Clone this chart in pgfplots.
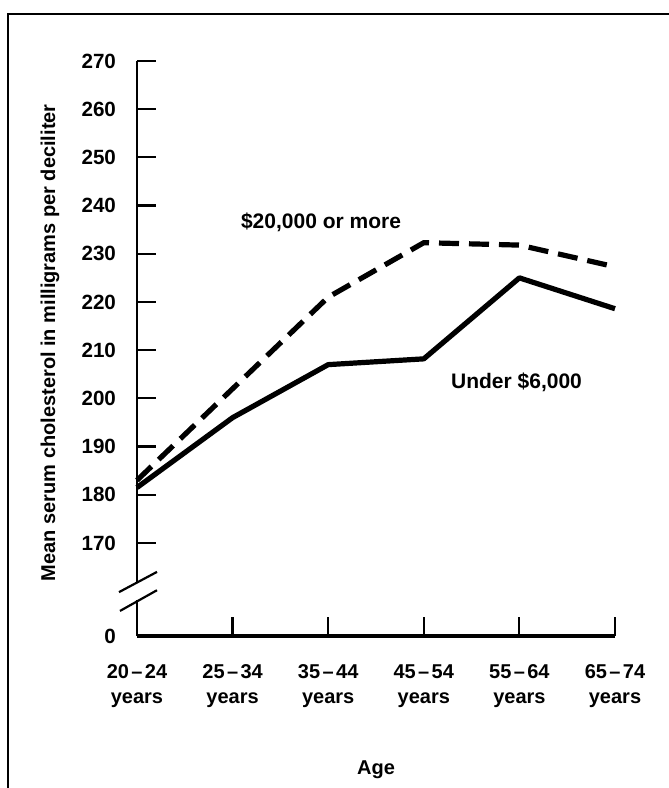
\documentclass[border=0pt]{standalone}
\usepackage{fontspec}
\setmainfont{Liberation Sans}
\usepackage{pgfplots}
\pgfplotsset{compat=1.18}
\newcommand\agelab[2]{\strut#1\kern1.2pt--\kern1.2pt#2\\\strut years}
\begin{document}
\begin{tikzpicture}
\begin{axis}[
  at={(0,0)}, anchor=south west,
  x=47.8pt, y=2.41pt,
  xmin=0, xmax=5, ymin=150.7, ymax=270,
  clip=false,
  axis x line*=bottom,
  axis y line*=left,
  y axis line style={draw=none},
  x axis line style={line width=2pt, -},
  tick align=inside,
  major tick length=9.5pt,
  every tick/.style={black, line width=1.1pt},
  xtick={0,1,2,3,4,5},
  xticklabels={{\agelab{20}{24}},{\agelab{25}{34}},{\agelab{35}{44}},{\agelab{45}{54}},{\agelab{55}{64}},{\agelab{65}{74}}},
  x tick label style={align=center, anchor=north, font=\bfseries\fontsize{10}{12.5}\selectfont, yshift=-9pt},
  ytick={150.7,170,180,190,200,210,220,230,240,250,260,270},
  yticklabels={0,170,180,190,200,210,220,230,240,250,260,270},
  y tick label style={font=\bfseries\fontsize{10.3}{12}\selectfont, xshift=-7pt},
  /pgf/number format/assume math mode=true,
  ylabel={Mean serum cholesterol in milligrams per deciliter},
  ylabel style={at={(axis description cs:-0.182,0.51)}, anchor=center, font=\bfseries\fontsize{10}{12}\selectfont},
  xlabel={Age},
  xlabel style={at={(axis description cs:0.5,0)}, anchor=center, yshift=-67pt, font=\bfseries\fontsize{10}{12}\selectfont},
]
% Under $6,000
\addplot[black, line width=2.6pt, line join=round] coordinates {
  (0,181.5) (1,196) (2,207) (3,208.2) (4,225) (5,218.6)
};
% $20,000 or more
\addplot[black, line width=2.6pt, dash pattern=on 10pt off 5pt] coordinates {
  (0,183) (1,202) (2,221) (3,232.3) (4,231.8) (5,227.3)
};
\node[font=\bfseries\fontsize{10.5}{12}\selectfont] at (axis cs:1.925,236.6) {\$20,000 or more};
\node[font=\bfseries\fontsize{10.5}{12}\selectfont] at (axis cs:3.97,203.4) {Under \$6,000};
% broken y axis
\draw[line width=1.1pt] (axis cs:0,270) -- (axis cs:0,161.9);
\draw[line width=1.1pt] (axis cs:0,158.2) -- (axis cs:0,150.7);
\draw[line width=1.1pt] ([xshift=-9pt]axis cs:0,159.8) -- ([xshift=10pt]axis cs:0,164.0);
\draw[line width=1.1pt] ([xshift=-8.5pt]axis cs:0,155.9) -- ([xshift=10pt]axis cs:0,160.2);
\end{axis}
\pgfresetboundingbox
\useasboundingbox (-68.5pt,-76pt) rectangle (266pt,318pt);
\draw[line width=1.1pt] (-64.5pt,-80pt) -- (-64.5pt,311pt) -- (270pt,311pt);
\end{tikzpicture}
\end{document}
